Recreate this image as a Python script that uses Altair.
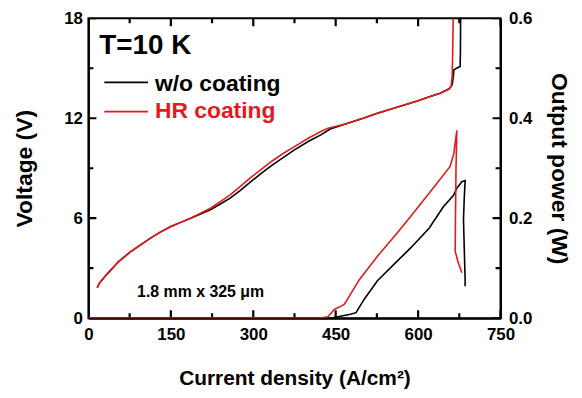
import altair as alt
import pandas as pd

# ---------------- data ----------------
# Voltage vs current density
v_red_J = [16, 20, 30, 41, 55, 77, 95, 113, 130, 150, 168, 186, 204, 222, 240, 258, 276, 294, 315, 335,
           355, 375, 400, 423, 436, 455, 472, 500, 526, 560, 600, 622, 640, 656, 660, 662, 663, 664]
v_red_V = [1.83, 2.1, 2.5, 2.9, 3.4, 4.0, 4.4, 4.8, 5.15, 5.5, 5.75, 6.0, 6.3, 6.6, 7.0, 7.4, 7.9, 8.4, 8.95, 9.45,
           9.9, 10.3, 10.8, 11.2, 11.4, 11.55, 11.7, 12.0, 12.3, 12.65, 13.05, 13.3, 13.5, 13.75, 13.9, 14.5, 16.0, 18.5]

v_blk_J = [16, 20, 30, 41, 55, 77, 95, 113, 130, 150, 168, 186, 204, 222, 240, 258, 276, 294, 315, 335,
           355, 375, 400, 423, 440, 472, 500, 526, 560, 600, 622, 640, 656, 662, 664.5, 665, 670, 676.5, 677, 677.5]
v_blk_V = [1.83, 2.1, 2.5, 2.9, 3.4, 4.0, 4.4, 4.8, 5.15, 5.5, 5.75, 6.0, 6.25, 6.5, 6.85, 7.2, 7.65, 8.15, 8.7, 9.2,
           9.65, 10.1, 10.6, 11.0, 11.35, 11.7, 12.0, 12.3, 12.65, 13.05, 13.3, 13.5, 13.75, 14.0, 14.6, 14.9, 15.0, 15.1, 16.0, 18.5]

# Output power vs current density
p_red_J = [0, 420, 436, 448, 460, 466, 493, 526, 560, 586, 620, 658, 665, 670.5, 669, 668, 667.5, 672, 679.6]
p_red_P = [0, 0, 0.003, 0.018, 0.024, 0.028, 0.077, 0.124, 0.168, 0.203, 0.25, 0.303, 0.329, 0.376, 0.3, 0.2, 0.134, 0.115, 0.091]

p_blk_J = [0, 440, 454, 477, 487, 502, 526, 560, 586, 620, 646, 664.5, 670.5, 679.6, 685.6, 684, 682.6, 684.5, 685.6, 685.6]
p_blk_P = [0, 0, 0.003, 0.008, 0.011, 0.038, 0.075, 0.112, 0.14, 0.18, 0.223, 0.246, 0.26, 0.273, 0.275, 0.24, 0.197, 0.12, 0.077, 0.064]

# tick values
x_major = [0, 150, 300, 450, 600, 750]
x_minor = [75, 225, 375, 525, 675]
v_major = [0, 6, 12, 18]
v_minor = [3, 9, 15]
p_major = [0.0, 0.2, 0.4, 0.6]
p_minor = [0.1, 0.3, 0.5]

series_names = ["w/o coating", "HR coating"]
RED = "#e41a1c"
FONT = "Liberation Sans"
W, H = 415, 302
XMAX, VMAX, PMAX = 750, 18, 0.6
MAJ, MIN = 8, 5  # inward tick lengths, px
TW = 2.2         # tick stroke width


def df(xs, ys, xname, yname):
    return pd.DataFrame({xname: xs, yname: ys, "i": list(range(len(xs)))})


x_scale = alt.Scale(domain=[0, XMAX], nice=False, zero=False)
v_scale = alt.Scale(domain=[0, VMAX], nice=False)
p_scale = alt.Scale(domain=[0, PMAX], nice=False)

x_axis = alt.Axis(values=x_major, title="Current density (A/cm²)", titlePadding=26, labelPadding=8,
                  titleFontSize=21, labelFlush=False, ticks=False)
v_axis = alt.Axis(values=v_major, title="Voltage (V)", titlePadding=27, labelPadding=6, labelFlush=False,
                  ticks=False)
p_axis = alt.Axis(values=p_major, title="Output power (W)", orient="right", format=".1f",
                  titlePadding=15, labelPadding=8, labelFlush=False, ticks=False)


def X():
    return alt.X("J:Q", scale=x_scale, axis=x_axis)


def YV():
    return alt.Y("V:Q", scale=v_scale, axis=v_axis)


def YP():
    return alt.Y("P:Q", scale=p_scale, axis=p_axis)


def vline(xs, ys, color):
    return alt.Chart(df(xs, ys, "J", "V")).mark_line(color=color, strokeWidth=1.6, clip=True).encode(
        x=X(), y=YV(), order="i:Q")


def pline(xs, ys, color):
    return alt.Chart(df(xs, ys, "J", "P")).mark_line(color=color, strokeWidth=1.6, clip=True).encode(
        x=X(), y=YP(), order="i:Q")


# inward ticks drawn as short two-point lines (tick length converted from px to data units)
def tick_rows(vals, length, along, across, start, direction, ymax, span):
    rows = []
    d = length * ymax / span
    for k, v in enumerate(vals):
        for j, off in enumerate((0, d)):
            rows.append({along: v, across: start + direction * off, "k": f"{across}{start}-{k}-{length}", "i": j})
    return rows


def tick_layer(rows, y_enc):
    return alt.Chart(pd.DataFrame(rows)).mark_line(color="black", strokeWidth=TW, clip=True).encode(
        x=X(), y=y_enc, detail="k:N", order="i:Q")


x_rows = (tick_rows(x_major, MAJ, "J", "V", 0, 1, VMAX, H) + tick_rows(x_minor, MIN, "J", "V", 0, 1, VMAX, H)
          + tick_rows(x_major, MAJ, "J", "V", VMAX, -1, VMAX, H) + tick_rows(x_minor, MIN, "J", "V", VMAX, -1, VMAX, H))
v_rows = tick_rows(v_major, MAJ, "V", "J", 0, 1, XMAX, W) + tick_rows(v_minor, MIN, "V", "J", 0, 1, XMAX, W)
p_rows = (tick_rows(p_major, MAJ, "P", "J", XMAX, -1, XMAX, W)
          + tick_rows(p_minor, MIN, "P", "J", XMAX, -1, XMAX, W))


def text(t, x, y, size, color="black"):
    return alt.Chart(pd.DataFrame({"t": [t]})).mark_text(
        align="left", baseline="alphabetic", font=FONT, fontWeight="bold", fontSize=size, color=color).encode(
        text="t:N", x=alt.value(x), y=alt.value(y))


def legline(y, color):
    return alt.Chart(pd.DataFrame({"a": [0]})).mark_rule(color=color, strokeWidth=1.8).encode(
        x=alt.value(16), x2=alt.value(60), y=alt.value(y))


voltage = alt.layer(
    tick_layer(x_rows, YV()),
    tick_layer(v_rows, YV()),
    vline(v_blk_J, v_blk_V, "black"),
    vline(v_red_J, v_red_V, RED),
    text("T=10 K", 11, 36, 28),
    legline(64.5, "black"), text(series_names[0], 67, 73, 23),
    legline(94, RED), text(series_names[1], 67, 100, 23, RED),
    text("1.8 mm x 325 μm", 49, 281, 16),
)

power = alt.layer(
    tick_layer(p_rows, YP()),
    pline(p_blk_J, p_blk_P, "black"),
    pline(p_red_J, p_red_P, RED),
)

chart = alt.layer(voltage, power).resolve_scale(y="independent").properties(
    width=W, height=H,
    autosize=alt.AutoSizeParams(type="none"),
    padding={"left": 81, "top": 9, "right": 74, "bottom": 71},
    background="white",
).configure_view(
    stroke="black", strokeWidth=2
).configure_axis(
    grid=False, domainColor="black", domainWidth=2,
    labelFont=FONT, labelFontSize=17, labelFontWeight="bold", labelColor="black",
    titleFont=FONT, titleFontSize=23, titleFontWeight="bold", titleColor="black",
)

chart.save("out.html", embed_options={"renderer": "svg", "actions": False})
